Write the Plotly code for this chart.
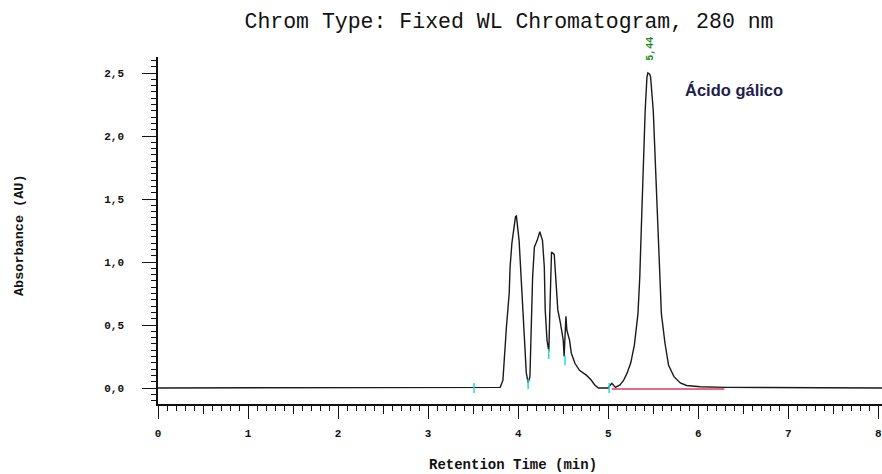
import plotly.graph_objects as go

# Chromatogram at 280 nm: retention time (min) and absorbance (AU)
rt_min = [
    0.00, 3.50, 3.67, 3.68, 3.80, 3.83, 3.85, 3.87, 3.90, 3.91, 3.93, 3.95,
    3.97, 3.98, 3.99, 4.01, 4.03, 4.05, 4.07, 4.09, 4.11, 4.13, 4.14, 4.16,
    4.18, 4.21, 4.24, 4.27, 4.29, 4.30, 4.32, 4.34, 4.35, 4.36, 4.37, 4.40,
    4.42, 4.44, 4.47, 4.50, 4.51, 4.52, 4.53, 4.54, 4.57, 4.59, 4.63, 4.68,
    4.76, 4.81, 4.85, 4.89, 4.95, 5.00, 5.02, 5.04, 5.08, 5.13, 5.17, 5.21,
    5.25, 5.29, 5.33, 5.35, 5.37, 5.39, 5.41, 5.43, 5.44, 5.46, 5.47, 5.50,
    5.52, 5.55, 5.57, 5.59, 5.63, 5.67, 5.73, 5.80, 5.87, 6.02, 6.30, 8.04,
]
absorbance_au = [
    0.000, 0.000, 0.000, 0.005, 0.005, 0.06, 0.30, 0.49, 0.75, 0.96, 1.15, 1.24,
    1.36, 1.365, 1.29, 1.17, 0.91, 0.62, 0.30, 0.12, 0.04, 0.09, 0.35, 0.88,
    1.12, 1.17, 1.24, 1.17, 0.96, 0.62, 0.38, 0.29, 0.57, 0.96, 1.08, 1.06,
    0.83, 0.62, 0.51, 0.38, 0.25, 0.38, 0.57, 0.46, 0.38, 0.275, 0.196, 0.14,
    0.10, 0.063, 0.024, 0.000, 0.000, 0.000, 0.02, 0.037, 0.005, 0.024, 0.06, 0.12,
    0.20, 0.34, 0.59, 0.88, 1.33, 1.81, 2.20, 2.47, 2.50, 2.49, 2.47, 2.20,
    1.81, 1.33, 0.88, 0.59, 0.355, 0.18, 0.09, 0.04, 0.02, 0.01, 0.005, 0.000,
]

# Integration start/stop events
event_rt = [3.51, 4.11, 4.34, 4.52, 5.01]
event_au = [0.00, 0.03, 0.27, 0.22, 0.00]

# Drawn baseline under the gallic acid peak
baseline_rt = [5.04, 6.29]
baseline_au = [-0.008, -0.008]

# Identified peak
peak_rt = 5.44
peak_au = 2.50
peak_name = "Ácido gálico"

# Axes
x_range = [0, 8.04]
y_range = [-0.127, 2.627]
x_ticks = [0, 1, 2, 3, 4, 5, 6, 7, 8]
x_labels = ["0", "1", "2", "3", "4", "5", "6", "7", "8"]
x_half_ticks = [0.5, 1.5, 2.5, 3.5, 4.5, 5.5, 6.5, 7.5]
y_ticks = [0.0, 0.5, 1.0, 1.5, 2.0, 2.5]
y_labels = ["0,0", "0,5", "1,0", "1,5", "2,0", "2,5"]

MONO = "Liberation Mono, Courier New, monospace"
AXIS_COLOR = "#111111"

fig = go.Figure()

fig.add_trace(go.Scatter(
    x=baseline_rt, y=baseline_au, mode="lines",
    line=dict(color="#e0385a", width=1.6), hoverinfo="skip",
))
fig.add_trace(go.Scatter(
    x=rt_min, y=absorbance_au, mode="lines",
    line=dict(color="#1a1a1a", width=1.4), hoverinfo="skip",
))
fig.add_trace(go.Scatter(
    x=event_rt, y=event_au, mode="markers", xaxis="x2",
    marker=dict(symbol="line-ns", size=7, line=dict(color="#22d8e8", width=1.5)),
    hoverinfo="skip",
))

peak_label = f"{peak_rt:.2f}".replace(".", ",")
fig.add_annotation(
    x=peak_rt, y=peak_au, text=peak_label, textangle=-90, showarrow=False,
    xanchor="center", yanchor="bottom", yshift=10, xshift=2,
    font=dict(family=MONO, size=10, color="#1a8a1a", weight="bold"),
)
fig.add_annotation(
    x=5.83, y=2.365, text=peak_name, showarrow=False,
    xanchor="left", yanchor="middle",
    font=dict(family="Liberation Sans, Arial, sans-serif", size=16.5,
              color="#1e1e4e", weight="bold"),
)

# Axis titles
fig.add_annotation(
    xref="paper", yref="paper", x=(513 - 158) / 724, y=(404 - 465) / 347,
    text="Retention Time (min)", showarrow=False,
    xanchor="center", yanchor="middle",
    font=dict(family=MONO, size=14, color="#111111", weight="bold"),
)
fig.add_annotation(
    xref="paper", yref="paper", x=(19 - 158) / 724, y=(404 - 235) / 347,
    text="Absorbance (AU)", textangle=-90, showarrow=False,
    xanchor="center", yanchor="middle",
    font=dict(family=MONO, size=13.5, color="#111111", weight="bold"),
)

fig.update_layout(
    width=882, height=474,
    margin=dict(l=158, r=0, t=57, b=70, pad=0),
    paper_bgcolor="white", plot_bgcolor="white",
    showlegend=False,
    font=dict(family=MONO, color="#111111"),
    title=dict(
        text="Chrom Type: Fixed WL Chromatogram, 280 nm",
        xref="container", yref="container",
        x=509 / 882, y=1 - 20 / 474, xanchor="center", yanchor="middle",
        font=dict(family=MONO, size=21.5, color="#111111"),
    ),
    xaxis=dict(
        range=x_range, showgrid=False, zeroline=False,
        showline=True, linecolor=AXIS_COLOR, linewidth=1.5,
        ticks="outside", ticklen=13, tickwidth=1.3, tickcolor=AXIS_COLOR,
        tickvals=x_ticks, ticktext=x_labels, ticklabelstandoff=5,
        ticklabeloverflow="allow",
        tickfont=dict(family=MONO, size=11, color="#111111", weight="bold"),
        minor=dict(dtick=0.1, tick0=0, ticks="outside", ticklen=5,
                   tickwidth=1.2, tickcolor=AXIS_COLOR, showgrid=False),
        fixedrange=True,
    ),
    xaxis2=dict(
        range=x_range, overlaying="x", anchor="y", side="bottom",
        showgrid=False, zeroline=False, showline=False,
        ticks="outside", ticklen=9, tickwidth=1.2, tickcolor=AXIS_COLOR,
        tickvals=x_half_ticks, showticklabels=False, fixedrange=True,
    ),
    yaxis=dict(
        range=y_range, showgrid=False, zeroline=False,
        showline=True, linecolor=AXIS_COLOR, linewidth=1.5,
        ticks="outside", ticklen=14, tickwidth=1.3, tickcolor=AXIS_COLOR,
        tickvals=y_ticks, ticktext=y_labels, ticklabelstandoff=16,
        tickfont=dict(family=MONO, size=11, color="#111111", weight="bold"),
        minor=dict(dtick=0.05, tick0=0, ticks="outside", ticklen=5,
                   tickwidth=1.2, tickcolor=AXIS_COLOR, showgrid=False),
        fixedrange=True,
    ),
)

fig.write_html("out.html")
